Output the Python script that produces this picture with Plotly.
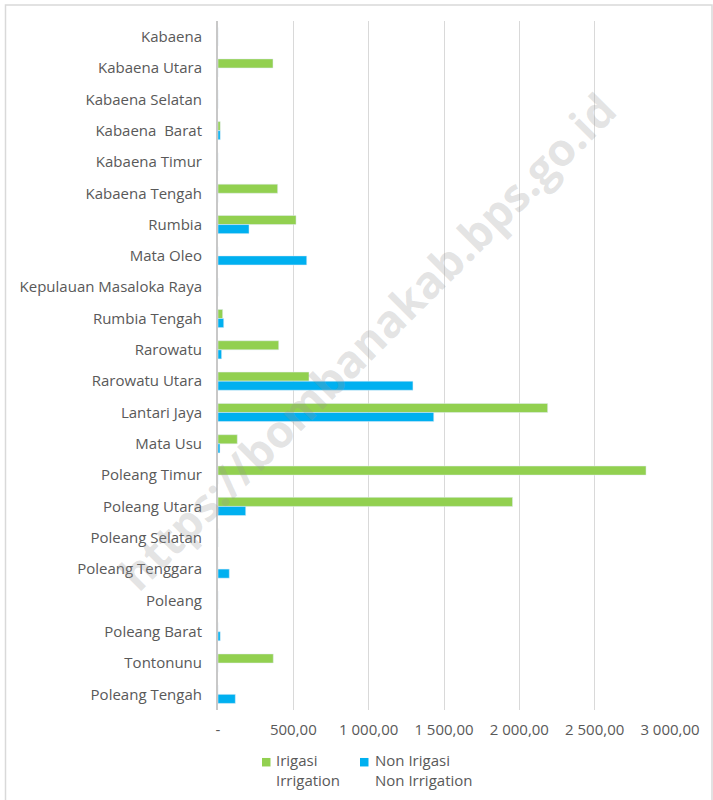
import plotly.graph_objects as go

categories = ["Kabaena", "Kabaena Utara", "Kabaena Selatan", "Kabaena  Barat", "Kabaena Timur",
              "Kabaena Tengah", "Rumbia", "Mata Oleo", "Kepulauan Masaloka Raya", "Rumbia Tengah",
              "Rarowatu", "Rarowatu Utara", "Lantari Jaya", "Mata Usu", "Poleang Timur",
              "Poleang Utara", "Poleang Selatan", "Poleang Tenggara", "Poleang", "Poleang Barat",
              "Tontonunu", "Poleang Tengah"]
irigasi = [0, 365, 0, 15, 0, 396, 518, 0, 0, 31, 403, 604, 2188, 128, 2841, 1955, 0, 0, 0, 0, 367, 0]
non_irigasi = [0, 0, 0, 15, 0, 0, 206, 589, 0, 38, 24, 1294, 1432, 13, 0, 184, 0, 75, 0, 15, 0, 115]
tick_vals = [0, 500, 1000, 1500, 2000, 2500, 3000]
tick_text = ["-", "500,00", "1 000,00", "1 500,00", "2 000,00", "2 500,00", "3 000,00"]
series_names = ["Irigasi<br>Irrigation", "Non Irigasi<br>Non Irrigation"]
series_colors = ["#92D050", "#00B0F0"]

FONT = "Open Sans"
GRAY = "#595959"
FS = 15

fig = go.Figure()
fig.add_trace(go.Bar(y=categories, x=irigasi, orientation="h", name=series_names[0],
                     marker_color=series_colors[0], showlegend=False))
fig.add_trace(go.Bar(y=categories, x=non_irigasi, orientation="h", name=series_names[1],
                     marker_color=series_colors[1], showlegend=False))

# plot area in px: x 218..670, y 20.5..710
L, R, T, B = 218, 670, 20.5, 710
W, H = 713, 800
pw, ph = R - L, B - T

def px_x(px):
    return (px - L) / pw

def px_y(py):
    return (B - py) / ph

fig.update_layout(
    width=W, height=H,
    margin=dict(l=L, r=W - R, t=T, b=H - B, pad=0, autoexpand=False),
    paper_bgcolor="white", plot_bgcolor="white",
    barmode="group", bargap=0.42, bargroupgap=0,
    font=dict(family=FONT, size=FS, color=GRAY),
    xaxis=dict(range=[0, 3000], tickvals=tick_vals, ticktext=tick_text,
               showgrid=True, gridcolor="#d9d9d9", gridwidth=1.2, zeroline=False,
               showline=False, ticks="", ticklabelstandoff=9,
               tickfont=dict(size=FS, color=GRAY, family=FONT)),
    yaxis=dict(autorange="reversed", showgrid=False, zeroline=False,
               showline=True, linecolor="#c8c8c8", linewidth=2, ticks="",
               ticklabelstandoff=11, tickfont=dict(size=FS, color=GRAY, family=FONT)),
    showlegend=False,
)

# chart border
fig.add_shape(type="rect", xref="paper", yref="paper",
              x0=px_x(5.5), x1=px_x(712), y0=px_y(803), y1=px_y(4.5),
              line=dict(color="#d9d9d9", width=1.5), fillcolor="rgba(0,0,0,0)", layer="below")

# legend (drawn manually to match the reference spacing)
legend_px = [(262, 274), (360, 373)]
for (sx, tx), name, col in zip(legend_px, series_names, series_colors):
    fig.add_shape(type="rect", xref="paper", yref="paper",
                  x0=px_x(sx), x1=px_x(sx + 8.5), y0=px_y(766.5), y1=px_y(758),
                  line=dict(width=0), fillcolor=col)
    fig.add_annotation(text=name, xref="paper", yref="paper", x=px_x(tx), y=px_y(770.5),
                       xanchor="left", yanchor="middle", align="left", showarrow=False,
                       font=dict(family=FONT, size=FS, color=GRAY))

fig.add_annotation(text="https://bombanakab.bps.go.id", xref="paper", yref="paper",
                   x=px_x(366), y=px_y(341), xanchor="center", yanchor="middle",
                   showarrow=False, textangle=-45,
                   font=dict(family="Open Sans", size=45, color="rgba(150,150,150,0.27)", weight="bold"))

fig.write_html("out.html", config={"displayModeBar": False},
               post_script="document.body.style.margin='0';document.body.style.overflow='hidden';")
